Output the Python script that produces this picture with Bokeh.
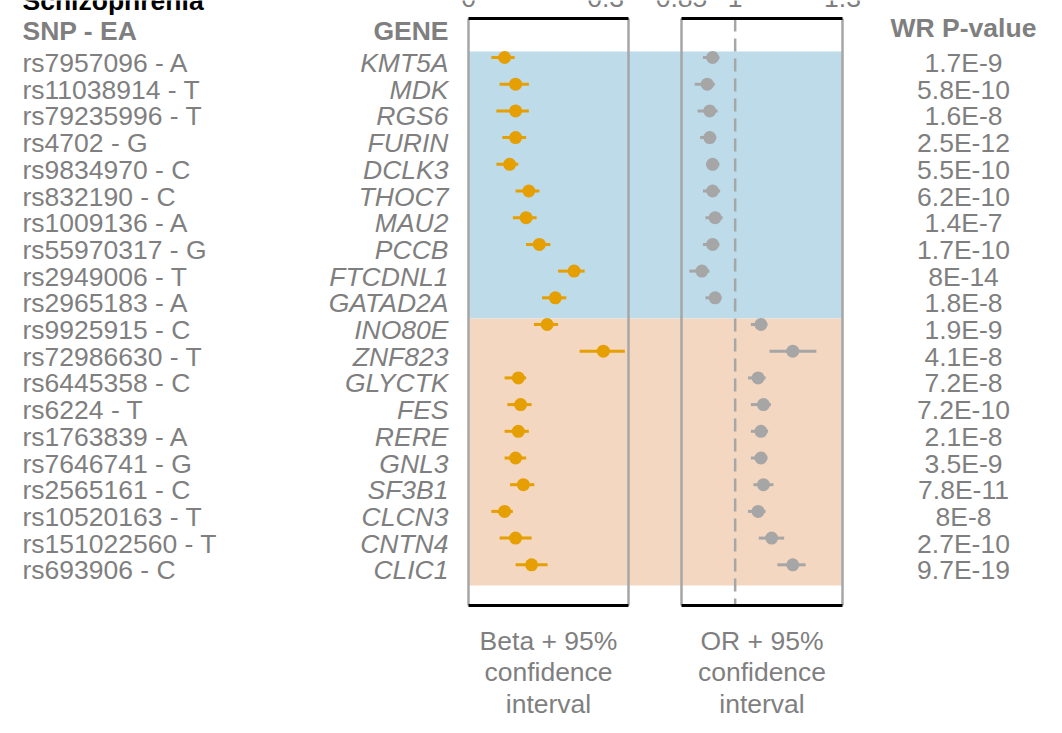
from bokeh.plotting import figure
from bokeh.models import Range1d, ColumnDataSource
from bokeh.embed import file_html
from bokeh.resources import INLINE
from bokeh.core.properties import value

# ---------------- data ----------------
title = "Schizophrenia"
snp_labels = ["rs7957096 - A", "rs11038914 - T", "rs79235996 - T", "rs4702 - G",
              "rs9834970 - C", "rs832190 - C", "rs1009136 - A", "rs55970317 - G",
              "rs2949006 - T", "rs2965183 - A", "rs9925915 - C", "rs72986630 - T",
              "rs6445358 - C", "rs6224 - T", "rs1763839 - A", "rs7646741 - G",
              "rs2565161 - C", "rs10520163 - T", "rs151022560 - T", "rs693906 - C"]
genes = ["KMT5A", "MDK", "RGS6", "FURIN", "DCLK3", "THOC7", "MAU2", "PCCB",
         "FTCDNL1", "GATAD2A", "INO80E", "ZNF823", "GLYCTK", "FES", "RERE",
         "GNL3", "SF3B1", "CLCN3", "CNTN4", "CLIC1"]
beta = [0.079, 0.103, 0.103, 0.103, 0.090, 0.132, 0.126, 0.155, 0.231, 0.190,
        0.172, 0.295, 0.109, 0.114, 0.109, 0.103, 0.120, 0.079, 0.103, 0.138]
beta_lo = [0.050, 0.068, 0.061, 0.074, 0.061, 0.103, 0.097, 0.126, 0.196, 0.161,
           0.143, 0.243, 0.079, 0.085, 0.079, 0.079, 0.091, 0.050, 0.068, 0.103]
beta_hi = [0.101, 0.132, 0.132, 0.126, 0.109, 0.155, 0.149, 0.179, 0.254, 0.214,
           0.196, 0.342, 0.126, 0.138, 0.132, 0.126, 0.144, 0.097, 0.138, 0.173]
odds = [0.937, 0.922, 0.929, 0.929, 0.937, 0.937, 0.944, 0.937, 0.907, 0.944,
        1.072, 1.161, 1.064, 1.079, 1.072, 1.072, 1.079, 1.064, 1.102, 1.161]
odds_lo = [0.910, 0.887, 0.895, 0.902, 0.919, 0.910, 0.917, 0.910, 0.872, 0.917,
           1.044, 1.096, 1.036, 1.044, 1.044, 1.044, 1.051, 1.036, 1.066, 1.118]
odds_hi = [0.956, 0.943, 0.951, 0.947, 0.956, 0.958, 0.965, 0.956, 0.928, 0.962,
           1.090, 1.227, 1.085, 1.100, 1.092, 1.090, 1.107, 1.085, 1.137, 1.197]
pvalues = ["1.7E-9", "5.8E-10", "1.6E-8", "2.5E-12", "5.5E-10", "6.2E-10", "1.4E-7",
           "1.7E-10", "8E-14", "1.8E-8", "1.9E-9", "4.1E-8", "7.2E-8", "7.2E-10",
           "2.1E-8", "3.5E-9", "7.8E-11", "8E-8", "2.7E-10", "9.7E-19"]
group_sizes = [10, 10]
beta_ticks = [0, 0.3]
beta_tick_labels = ["0", "0.3"]
or_ticks = [0.85, 1, 1.3]
or_tick_labels = ["0.85", "1", "1.3"]
or_reference = 1
headers = ["SNP - EA", "GENE", "WR P-value"]
beta_caption = ["Beta + 95%", "confidence", "interval"]
or_caption = ["OR + 95%", "confidence", "interval"]

# ---------------- layout / style ----------------
W, H = 1046, 717
ROW0_PX, ROW_PX = 57.0, 26.7
BETA_LIM, BETA_PX = (0.0, 0.35), (468.0, 628.0)
OR_LIM, OR_PX = (0.85, 1.3), (681.0, 842.0)
SNP_X, GENE_X, P_X = 22, 448, 963
BASE_FIX = 10.0          # renderer draws alphabetic baselines this much lower
FONT = value("Liberation Sans")
FS = "26.5px"
GRAY_TXT = "#7f7f7f"
ORANGE = "#E69F00"
GRAY = "#a6a6a6"
BAND_COLORS = ["#bedbea", "#f3d7c1"]


def row_of(py):
    return (py - ROW0_PX) / ROW_PX


def base_row(py):
    return row_of(py - BASE_FIX)


def span_range(lim, px):
    k = (lim[1] - lim[0]) / (px[1] - px[0])
    s = lim[0] - px[0] * k
    return Range1d(s, s + W * k)


p = figure(width=W, height=H, x_range=span_range(BETA_LIM, BETA_PX),
           y_range=Range1d(row_of(H), row_of(0)),
           x_axis_location=None, y_axis_location=None,
           output_backend="svg", toolbar_location=None, min_border=0,
           outline_line_color=None, background_fill_color="white")
p.grid.visible = False
p.extra_x_ranges = {"or": span_range(OR_LIM, OR_PX), "page": Range1d(0, W)}

n = len(genes)
rows = list(range(n))

# background bands per group
tops, bottoms, cols = [], [], []
start = 0
for size, c in zip(group_sizes, BAND_COLORS):
    tops.append(start - 0.225)
    bottoms.append(start + size - 0.225)
    cols.append(c)
    start += size
p.quad(left=BETA_PX[0], right=OR_PX[1], top=tops, bottom=bottoms,
       fill_color=cols, line_color=None, x_range_name="page")

FT, FB = row_of(18), row_of(605)
# panel frames
p.segment(x0=list(BETA_LIM), x1=list(BETA_LIM), y0=FT, y1=FB, line_color=GRAY, line_width=2.5)
p.segment(x0=list(OR_LIM), x1=list(OR_LIM), y0=FT, y1=FB, line_color=GRAY, line_width=2.5,
          x_range_name="or")
p.segment(x0=[or_reference], x1=[or_reference], y0=FT, y1=FB, line_color=GRAY, line_width=2.5,
          line_dash="13 7", x_range_name="or")
p.segment(x0=BETA_LIM[0], x1=BETA_LIM[1], y0=[FT, FB], y1=[FT, FB], line_color="black",
          line_width=3)
p.segment(x0=OR_LIM[0], x1=OR_LIM[1], y0=[FT, FB], y1=[FT, FB], line_color="black",
          line_width=3, x_range_name="or")

src = ColumnDataSource(dict(row=rows, beta=beta, blo=beta_lo, bhi=beta_hi,
                            odds=odds, olo=odds_lo, ohi=odds_hi,
                            snp=snp_labels, gene=genes, pv=pvalues))

p.segment(x0="blo", x1="bhi", y0="row", y1="row", source=src, line_color=ORANGE, line_width=3)
p.scatter(x="beta", y="row", source=src, size=13, fill_color=ORANGE, line_color=None)
p.segment(x0="olo", x1="ohi", y0="row", y1="row", source=src, line_color=GRAY, line_width=3,
          x_range_name="or")
p.scatter(x="odds", y="row", source=src, size=13, fill_color=GRAY, line_color=None,
          x_range_name="or")

common = dict(text_font=FONT, text_font_size=FS, text_baseline="alphabetic")
ROW_TXT_OFF = 15.5 - BASE_FIX
p.text(x=SNP_X, y="row", text="snp", source=src, text_align="left", y_offset=ROW_TXT_OFF,
       text_color=GRAY_TXT, x_range_name="page", **common)
p.text(x=GENE_X, y="row", text="gene", source=src, text_align="right", y_offset=ROW_TXT_OFF,
       text_color=GRAY_TXT, text_font_style="italic", x_range_name="page", **common)
p.text(x=P_X, y="row", text="pv", source=src, text_align="center", y_offset=ROW_TXT_OFF,
       text_color=GRAY_TXT, x_range_name="page", **common)

# headers
p.text(x=[SNP_X], y=[base_row(40.5)], text=[headers[0]], text_align="left", text_color=GRAY_TXT,
       text_font_style="bold", x_range_name="page", **common)
p.text(x=[GENE_X], y=[base_row(40.5)], text=[headers[1]], text_align="right", text_color=GRAY_TXT,
       text_font_style="bold", x_range_name="page", **common)
p.text(x=[P_X], y=[base_row(37)], text=[headers[2]], text_align="center", text_color=GRAY_TXT,
       text_font_style="bold", x_range_name="page", **common)

# title (cut off at the top in the original)
p.text(x=[SNP_X], y=[base_row(10)], text=[title], text_align="left", text_color="black",
       text_font_style="bold", x_range_name="page", **common)

# top tick labels (cut off at the top in the original)
p.text(x=beta_ticks, y=base_row(7), text=beta_tick_labels, text_align="center",
       text_color=GRAY_TXT, **common)
p.text(x=or_ticks, y=base_row(7), text=or_tick_labels, text_align="center",
       text_color=GRAY_TXT, x_range_name="or", **common)

# captions, one text per line
cap_rows = [base_row(650 + 31.5 * i) for i in range(len(beta_caption))]
p.text(x=sum(BETA_LIM) / 2, y=cap_rows, text=beta_caption, text_align="center",
       text_color=GRAY_TXT, **common)
p.text(x=sum(OR_LIM) / 2, y=cap_rows, text=or_caption, text_align="center",
       text_color=GRAY_TXT, x_range_name="or", **common)

open("out.html", "w").write(file_html(p, INLINE))
